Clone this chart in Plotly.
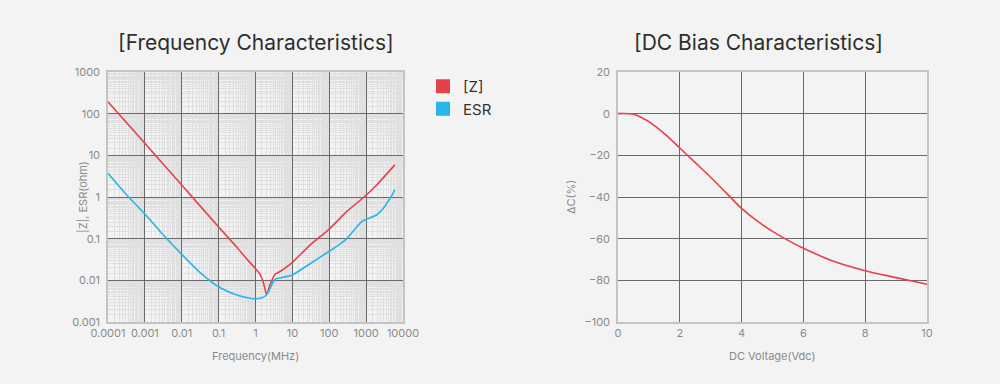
import plotly.graph_objects as go

# ---- data ----
freq_z = [0.0001, 0.001, 0.01, 0.1, 0.3, 0.5, 0.7, 1.0, 1.3, 1.6, 2.0, 2.5, 3.4, 5, 7, 10, 30, 100, 300, 1000, 2000, 6000]
z_vals = [194, 19.4, 1.94, 0.19, 0.065, 0.038, 0.027, 0.019, 0.0145, 0.0095, 0.0045, 0.008, 0.014, 0.017, 0.021, 0.027, 0.07, 0.17, 0.45, 1.1, 2.0, 5.9]

freq_esr = [0.0001, 0.0003, 0.001, 0.003, 0.01, 0.03, 0.1, 0.3, 0.6, 0.9, 1.5, 2.0, 3.0, 3.5, 6, 10, 30, 100, 200, 300, 400, 500, 700, 900, 1200, 2000, 3000, 4000, 5000, 6000]
esr_vals = [3.7, 1.2, 0.39, 0.13, 0.042, 0.016, 0.007, 0.0045, 0.0038, 0.0036, 0.0038, 0.0045, 0.009, 0.0107, 0.012, 0.0135, 0.025, 0.05, 0.075, 0.1, 0.135, 0.17, 0.24, 0.28, 0.31, 0.38, 0.55, 0.8, 1.1, 1.5]

volt = [0, 0.5, 0.8, 1.0, 1.5, 2.0, 2.5, 3.0, 3.5, 4.0, 4.5, 5.0, 5.5, 6.0, 7.0, 8.0, 9.0, 10.0]
dcap = [0, -0.3, -2.2, -3.8, -9.6, -16.5, -23.5, -30.5, -38.0, -45.5, -51.5, -56.5, -60.8, -64.6, -71, -75.4, -78.7, -81.9]

freq_ticks = [0.0001, 0.001, 0.01, 0.1, 1, 10, 100, 1000, 10000]
freq_tick_text = ["0.0001", "0.001", "0.01", "0.1", "1", "10", "100", "1000", "10000"]
imp_ticks = [0.001, 0.01, 0.1, 1, 10, 100, 1000]
imp_tick_text = ["0.001", "0.01", "0.1", "1", "10", "100", "1000"]
volt_ticks = [0, 2, 4, 6, 8, 10]
dcap_ticks = [20, 0, -20, -40, -60, -80, -100]

RED = "#e5414a"
BLUE = "#29b5e8"
BG = "#f3f3f3"
FONT = "Inter, Roboto, sans-serif"
TICKC = "#8a8a8a"

def minor_vals(lo, hi):
    vals = []
    for k in range(lo, hi):
        base = 10.0 ** k
        m = 1.5
        while m < 10:
            vals.append(m * base)
            m += 0.5
    return vals

fig = go.Figure()

fig.add_trace(go.Scatter(x=freq_z, y=z_vals, mode="lines", line=dict(color=RED, width=1.6, shape="spline", smoothing=0.4),
                         xaxis="x", yaxis="y", showlegend=False))
fig.add_trace(go.Scatter(x=freq_esr, y=esr_vals, mode="lines", line=dict(color=BLUE, width=1.6, shape="spline", smoothing=0.6),
                         xaxis="x", yaxis="y", showlegend=False))
# legend swatches
fig.add_trace(go.Scatter(x=[None], y=[None], mode="markers", name="[Z]",
                         marker=dict(symbol="square", size=14, color=RED), xaxis="x", yaxis="y"))
fig.add_trace(go.Scatter(x=[None], y=[None], mode="markers", name="ESR",
                         marker=dict(symbol="square", size=14, color=BLUE), xaxis="x", yaxis="y"))

fig.add_trace(go.Scatter(x=volt, y=dcap, mode="lines", line=dict(color=RED, width=1.6, shape="spline", smoothing=1.0),
                         xaxis="x2", yaxis="y2", showlegend=False))

ydom = [1 - 322 / 384, 1 - 72 / 384]

common = dict(ticks="", showgrid=True, gridcolor="#6a6a6a", gridwidth=1, automargin=False,
              showline=True, mirror=True, linecolor="#c4c4c4", linewidth=1.5, zeroline=False,
              tickfont=dict(size=11, color=TICKC, family=FONT))

def ann(text, x, y, size=11, color=TICKC, angle=0):
    return dict(text=text, x=x / 1000, y=1 - y / 384, xref="paper", yref="paper",
                xanchor="center", yanchor="middle", showarrow=False, textangle=angle,
                font=dict(size=size, color=color, family=FONT))

fig.update_layout(
    template="none",
    width=1000, height=384, autosize=False,
    margin=dict(l=0, r=0, t=0, b=0, pad=0),
    paper_bgcolor=BG, plot_bgcolor=BG,
    font=dict(family=FONT, color=TICKC, size=11),
    legend=dict(x=0.423, y=1 - 70 / 384, xanchor="left", yanchor="top",
                font=dict(size=15, color="#333333", family=FONT),
                bgcolor="rgba(0,0,0,0)", itemsizing="trace", tracegroupgap=0),
    xaxis=dict(type="log", domain=[0.108, 0.403], range=[-4, 4], anchor="y",
               tickvals=freq_ticks, ticktext=freq_tick_text,
               minor=dict(tickvals=minor_vals(-4, 4), showgrid=True, gridcolor="#e0e0e0", gridwidth=1),
               **common),
    yaxis=dict(type="log", domain=ydom, range=[-3, 3], anchor="x",
               tickvals=imp_ticks, ticktext=imp_tick_text, ticklabelstandoff=4,
               minor=dict(tickvals=minor_vals(-3, 3), showgrid=True, gridcolor="#e0e0e0", gridwidth=1),
               **common),
    xaxis2=dict(domain=[0.618, 0.927], range=[0, 10], anchor="y2",
                tickvals=volt_ticks, **common),
    yaxis2=dict(domain=ydom, range=[-100, 20], anchor="x2",
                tickvals=dcap_ticks, ticklabelstandoff=4, **common),
    annotations=[
        ann("[Frequency Characteristics]", 256, 42, size=21, color="#2e2e2e"),
        ann("[DC Bias Characteristics]", 758, 42, size=21, color="#2e2e2e"),
        ann("Frequency(MHz)", 255, 356),
        ann("DC Voltage(Vdc)", 772, 356),
        ann("|Z|, ESR(ohm)", 83, 197, angle=-90),
        ann("ΔC(%)", 571, 197, angle=-90),
    ],
)

fig.write_html("out.html", config={"responsive": False, "displayModeBar": False},
               post_script="document.body.style.margin='0';document.body.style.overflow='hidden';")
